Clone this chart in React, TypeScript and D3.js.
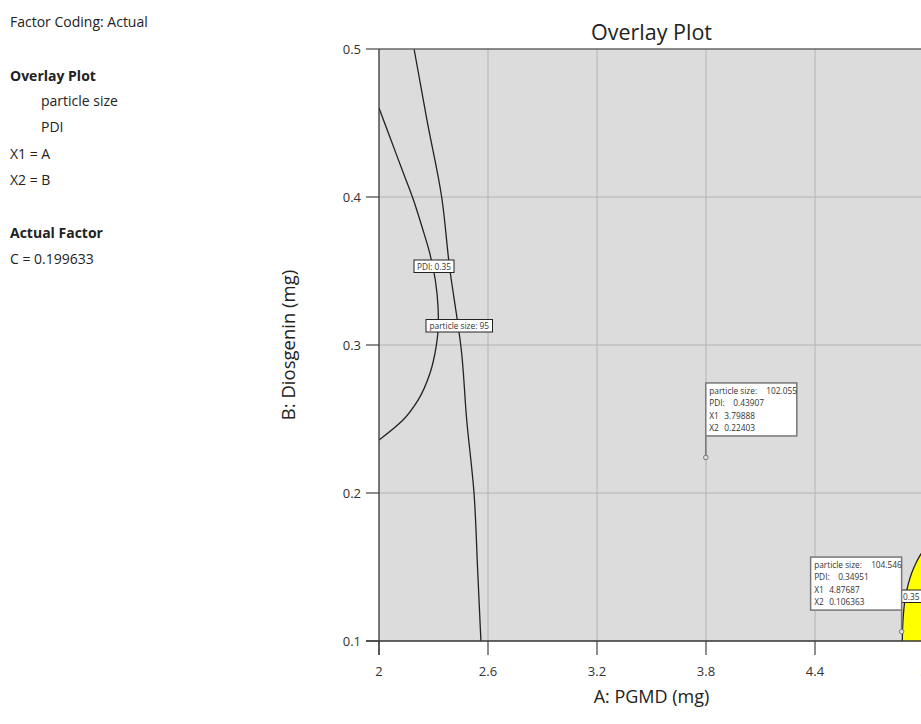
import * as d3 from 'd3';

// axis ticks
const xTicks = [2, 2.6, 3.2, 3.8, 4.4, 5];
const yTicks = [0.1, 0.2, 0.3, 0.4, 0.5];

// contour: particle size = 95  [A, B]
const sizeContour: [number, number][] = [
  [2.193, 0.5],
  [2.264, 0.452],
  [2.345, 0.4],
  [2.39, 0.351],
  [2.435, 0.3135],
  [2.45, 0.3],
  [2.483, 0.249],
  [2.523, 0.2],
  [2.543, 0.148],
  [2.561, 0.1],
];

// contour: PDI = 0.35
const pdiContour: [number, number][] = [
  [2.0, 0.4601],
  [2.066, 0.4385],
  [2.134, 0.4162],
  [2.186, 0.3993],
  [2.237, 0.3797],
  [2.279, 0.3622],
  [2.31, 0.3439],
  [2.325, 0.3257],
  [2.327, 0.3149],
  [2.314, 0.2986],
  [2.281, 0.2811],
  [2.215, 0.2628],
  [2.132, 0.2493],
  [2.0, 0.2358],
];

// edge of the yellow design space (bottom right)
const yellowEdge: [number, number][] = [
  [4.8805, 0.1],
  [4.8844, 0.1142],
  [4.8954, 0.1277],
  [4.9119, 0.1378],
  [4.9323, 0.1459],
  [4.956, 0.1527],
  [4.9835, 0.1588],
  [5.0, 0.1615],
];

// flagged points
const flags = [
  { a: 3.79888, b: 0.22403, size: '102.055', pdi: '0.43907', x1: '3.79888', x2: '0.22403', side: 'right' },
  { a: 4.87687, b: 0.106363, size: '104.546', pdi: '0.34951', x1: '4.87687', x2: '0.106363', side: 'left' },
];

const sideNotes = [
  { text: 'Factor Coding: Actual', bold: false, indent: 0, y: 27 },
  { text: 'Overlay Plot', bold: true, indent: 0, y: 81 },
  { text: 'particle size', bold: false, indent: 31, y: 106 },
  { text: 'PDI', bold: false, indent: 31, y: 132 },
  { text: 'X1 = A', bold: false, indent: 0, y: 159 },
  { text: 'X2 = B', bold: false, indent: 0, y: 185 },
  { text: 'Actual Factor', bold: true, indent: 0, y: 238 },
  { text: 'C = 0.199633', bold: false, indent: 0, y: 264 },
];

const W = 921;
const H = 724;
const LEFT = 379;
const RIGHT = 924;
const TOP = 49;
const BOTTOM = 641;
const FONT = "'Open Sans', 'Noto Sans', sans-serif";

export default function App() {
  const x = d3.scaleLinear().domain([2, 5]).range([LEFT, RIGHT]);
  const y = d3.scaleLinear().domain([0.1, 0.5]).range([BOTTOM, TOP]);

  const curve = d3
    .line<[number, number]>()
    .x((d) => x(d[0]))
    .y((d) => y(d[1]))
    .curve(d3.curveMonotoneY);

  const yellowArea = d3
    .area<[number, number]>()
    .y((d) => y(d[1]))
    .x0((d) => x(d[0]))
    .x1(x(5))
    .curve(d3.curveMonotoneY);

  const annW = 91;
  const annH = 53;
  const rowH = 12.4;
  const labelFont = 8.3;

  return (
    <svg
      width={W}
      height={H}
      style={{ position: 'absolute', left: 0, top: 0, background: '#fff' }}
      fontFamily={FONT}
    >
      <defs>
        <clipPath id="plot-clip">
          <rect x={LEFT} y={TOP} width={RIGHT - LEFT} height={BOTTOM - TOP} />
        </clipPath>
      </defs>

      {/* left side notes */}
      {sideNotes.map((n) => (
        <text
          key={n.text}
          x={10 + n.indent}
          y={n.y}
          fontSize={14}
          fontWeight={n.bold ? 700 : 400}
          fill="#222"
        >
          {n.text}
        </text>
      ))}

      {/* plot background */}
      <rect x={LEFT} y={TOP} width={RIGHT - LEFT} height={BOTTOM - TOP} fill="#dcdcdc" />

      <g clipPath="url(#plot-clip)">
        {/* grid */}
        {xTicks.slice(1).map((t) => (
          <line key={'gx' + t} x1={x(t)} x2={x(t)} y1={TOP} y2={BOTTOM} stroke="#b4b4b4" strokeWidth={1} />
        ))}
        {yTicks.slice(1, -1).map((t) => (
          <line key={'gy' + t} x1={LEFT} x2={RIGHT} y1={y(t)} y2={y(t)} stroke="#b4b4b4" strokeWidth={1} />
        ))}

        {/* yellow region */}
        <path d={yellowArea(yellowEdge) ?? ''} fill="#ffff00" />
        <path d={curve(yellowEdge) ?? ''} fill="none" stroke="#222" strokeWidth={1.3} />

        {/* contours */}
        <path d={curve(sizeContour) ?? ''} fill="none" stroke="#222" strokeWidth={1.3} />
        <path d={curve(pdiContour) ?? ''} fill="none" stroke="#222" strokeWidth={1.3} />

        {/* contour labels */}
        <g fontSize={labelFont} fill="#333" textAnchor="middle">
          <rect x={414} y={260} width={40} height={12.5} fill="#fff" stroke="#222" strokeWidth={1} />
          <text x={434} y={269.5}>PDI: 0.35</text>
          <rect x={426} y={319.5} width={66.5} height={12.5} fill="#fff" stroke="#222" strokeWidth={1} />
          <text x={459.25} y={329}>particle size: 95</text>
          <rect x={881} y={590} width={43} height={12.5} fill="#fff" stroke="#222" strokeWidth={1} />
          <text x={902.5} y={599.5}>PDI: 0.35</text>
        </g>

        {/* flagged points */}
        {flags.map((f) => {
          const px = x(f.a);
          const py = y(f.b);
          const bx = f.side === 'right' ? px : px - annW;
          const by = py - 21.5 - annH;
          const rows = [
            { l: 'particle size:', v: f.size, dv: 57 },
            { l: 'PDI:', v: f.pdi, dv: 24 },
            { l: 'X1', v: f.x1, dv: 15 },
            { l: 'X2', v: f.x2, dv: 15 },
          ];
          return (
            <g key={f.x1}>
              <line x1={px} x2={px} y1={py} y2={by + annH} stroke="#777" strokeWidth={1.5} />
              <circle cx={px} cy={py} r={2.3} fill="#dcdcdc" stroke="#777" strokeWidth={1} />
              <rect x={bx} y={by} width={annW} height={annH} fill="#fff" stroke="#777" strokeWidth={1.5} />
              {rows.map((r, i) => (
                <g key={r.l} fontSize={labelFont} fill="#333">
                  <text x={bx + 3.5} y={by + 10.8 + i * rowH}>{r.l}</text>
                  <text x={bx + 3.5 + r.dv} y={by + 10.8 + i * rowH}>{r.v}</text>
                </g>
              ))}
            </g>
          );
        })}
      </g>

      {/* frame */}
      <line x1={LEFT} x2={RIGHT} y1={TOP} y2={TOP} stroke="#666" strokeWidth={1.5} />
      <line x1={LEFT} x2={LEFT} y1={TOP} y2={BOTTOM + 14} stroke="#333" strokeWidth={1.3} />
      <line x1={LEFT - 13} x2={RIGHT} y1={BOTTOM} y2={BOTTOM} stroke="#333" strokeWidth={1.3} />

      {/* y axis */}
      {yTicks.map((t) => (
        <g key={'ty' + t}>
          <line x1={LEFT - 13} x2={LEFT} y1={y(t)} y2={y(t)} stroke="#444" strokeWidth={1.2} />
          <text x={LEFT - 18} y={y(t)} dy="0.35em" textAnchor="end" fontSize={13} fill="#333">
            {d3.format('.1f')(t)}
          </text>
        </g>
      ))}

      {/* x axis */}
      {xTicks.map((t) => (
        <g key={'tx' + t}>
          <line x1={x(t)} x2={x(t)} y1={BOTTOM} y2={BOTTOM + 14} stroke="#444" strokeWidth={1.2} />
          <text x={x(t)} y={BOTTOM + 35} textAnchor="middle" fontSize={13} fill="#333">
            {String(t)}
          </text>
        </g>
      ))}

      {/* titles */}
      <text x={(LEFT + RIGHT) / 2} y={40} textAnchor="middle" fontSize={21.5} fill="#222">
        Overlay Plot
      </text>
      <text x={(LEFT + RIGHT) / 2} y={703} textAnchor="middle" fontSize={18} fill="#222">
        A: PGMD (mg)
      </text>
      <text
        transform={`translate(295,${(TOP + BOTTOM) / 2}) rotate(-90)`}
        textAnchor="middle"
        fontSize={18.5}
        fill="#222"
      >
        B: Diosgenin (mg)
      </text>
    </svg>
  );
}
